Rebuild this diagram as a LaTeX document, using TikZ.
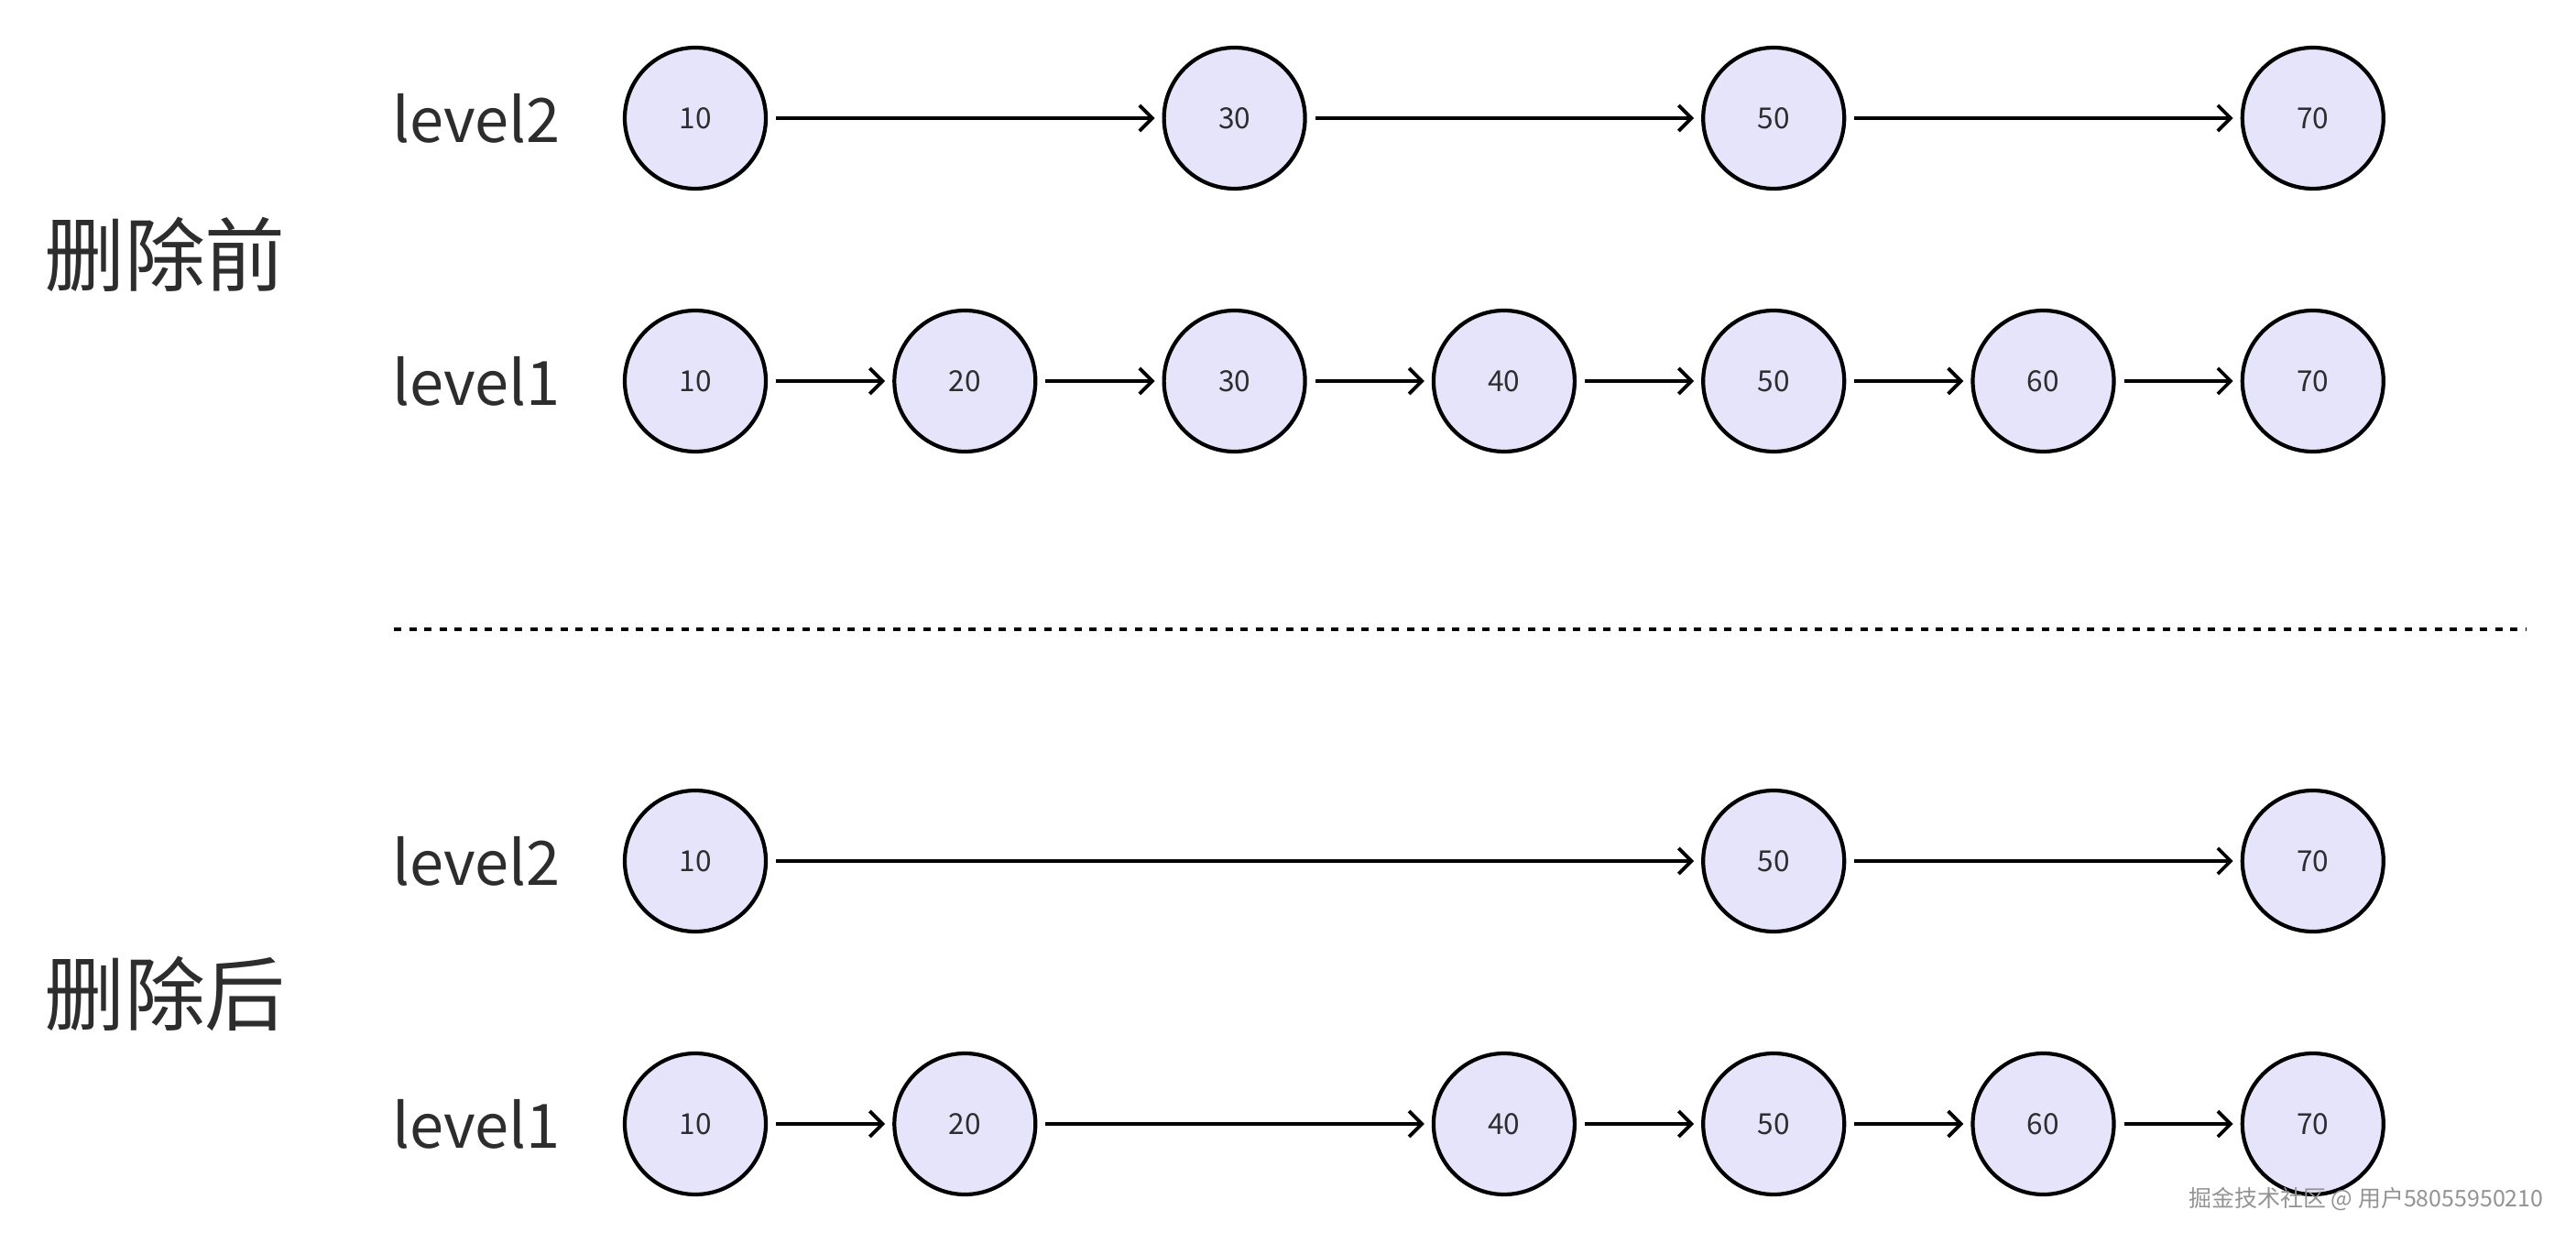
\documentclass[tikz,border=0pt]{standalone}
\usepackage{fontspec}
\setmainfont{Noto Sans CJK SC}
\usetikzlibrary{arrows.meta, positioning}
\definecolor{nodefill}{RGB}{230,228,250}
\definecolor{textdark}{RGB}{45,45,45}

\begin{document}
\begin{tikzpicture}[
  keynode/.style={circle, draw=black, line width=1.2pt, fill=nodefill, minimum size=1.54cm, inner sep=0pt, font=\fontsize{9}{10}\selectfont, text=textdark},
  link/.style={-{Straight Barb[length=1.4mm,width=2.8mm]}, line width=1.1pt, shorten <=0.9mm, shorten >=0.8mm},
  lvl/.style={font=\fontsize{19}{22}\selectfont, text=textdark},
  stage/.style={font=\fontsize{25}{29}\selectfont, text=textdark}
]
  \useasboundingbox (0,0) rectangle (28.12,13.56);

  % before deletion
  \node[stage] (before) at (1.80,10.78) {删除前};
  \node[lvl] (b2) at (5.20,12.27) {level2};
  \node[lvl] (b1) at (5.20,9.40) {level1};
  \foreach \v/\i in {10/0,30/2,50/4,70/6}
    \node[keynode] (b2n\v) at (7.59+2.943*\i,12.27) {\v};
  \foreach \v/\i in {10/0,20/1,30/2,40/3,50/4,60/5,70/6}
    \node[keynode] (b1n\v) at (7.59+2.943*\i,9.40) {\v};
  \foreach \a/\b in {10/30,30/50,50/70}
    \draw[link] (b2n\a) -- (b2n\b);
  \foreach \a/\b in {10/20,20/30,30/40,40/50,50/60,60/70}
    \draw[link] (b1n\a) -- (b1n\b);

  % separator
  \coordinate (sepl) at (4.30,6.69);
  \coordinate (sepr) at (27.58,6.69);
  \draw[line width=0.9pt, dash pattern=on 0.08cm off 0.085cm] (sepl) -- (sepr);

  % after deletion
  \node[stage] (after) at (1.80,2.71) {删除后};
  \node[lvl] (a2) at (5.20,4.16) {level2};
  \node[lvl] (a1) at (5.20,1.29) {level1};
  \foreach \v/\i in {10/0,50/4,70/6}
    \node[keynode] (a2n\v) at (7.59+2.943*\i,4.16) {\v};
  \foreach \v/\i in {10/0,20/1,40/3,50/4,60/5,70/6}
    \node[keynode] (a1n\v) at (7.59+2.943*\i,1.29) {\v};
  \foreach \a/\b in {10/50,50/70}
    \draw[link] (a2n\a) -- (a2n\b);
  \foreach \a/\b in {10/20,20/40,40/50,50/60,60/70}
    \draw[link] (a1n\a) -- (a1n\b);

  % watermark
  \node[font=\fontsize{7.1}{8}\selectfont, text=gray!85] (mark) at (25.83,0.47) {掘金技术社区 @ 用户58055950210};
\end{tikzpicture}
\end{document}
